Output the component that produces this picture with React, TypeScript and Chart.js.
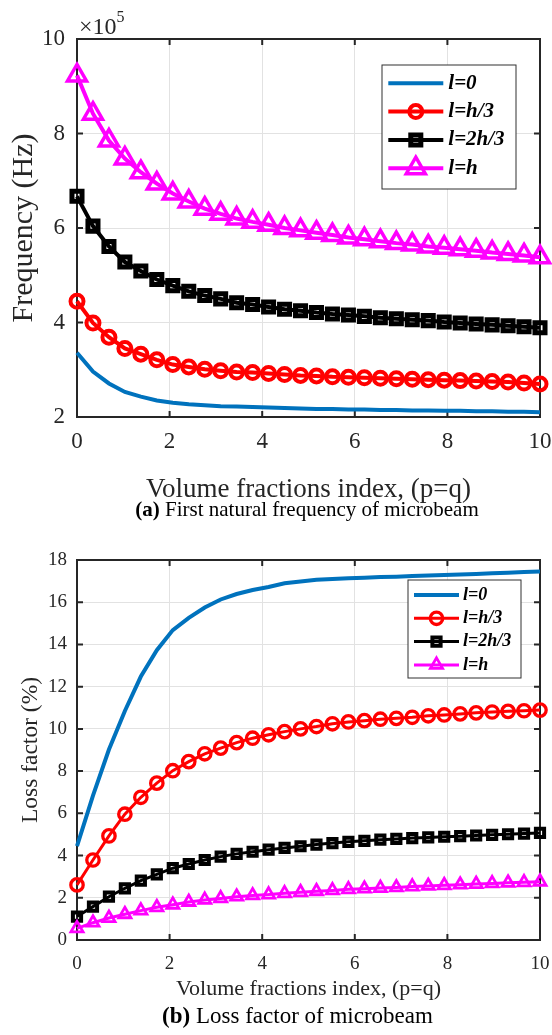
import React, { useEffect, useRef } from "react";
import { Chart, registerables } from "chart.js";
import { drawPoint } from "chart.js/helpers";

Chart.register(...registerables);

const FONT = '"Liberation Serif", "Times New Roman", Times, serif';
const AXIS_COLOR = "#262626";
const GRID_COLOR = "#e2e2e2";
const CANVAS_WIDTH = 600;

// Volume fraction index p = q (30 samples)
const pValues = [
  0, 0.345, 0.69, 1.034, 1.379, 1.724, 2.069, 2.414, 2.759, 3.103,
  3.448, 3.793, 4.138, 4.483, 4.828, 5.172, 5.517, 5.862, 6.207, 6.552,
  6.897, 7.241, 7.586, 7.931, 8.276, 8.621, 8.966, 9.31, 9.655, 10,
];

const seriesLabels = ["l=0", "l=h/3", "l=2h/3", "l=h"];
const seriesColors = ["#0072BD", "#FF0000", "#000000", "#FF00FF"];
const seriesMarkers = [false, "circle", "rect", "triangle"];

const xTicks = [0, 2, 4, 6, 8, 10];
const freqYTicks = [2, 4, 6, 8, 10];
const lossYTicks = [0, 2, 4, 6, 8, 10, 12, 14, 16, 18];

// (a) First natural frequency (x 10^5 Hz)
const freqL0 = [3.36, 2.96, 2.71, 2.53, 2.43, 2.35, 2.3, 2.27, 2.25, 2.23, 2.22, 2.21, 2.2, 2.19, 2.18, 2.17, 2.17, 2.16, 2.16, 2.15, 2.15, 2.14, 2.14, 2.13, 2.13, 2.12, 2.12, 2.11, 2.11, 2.1];
const freqLh3 = [4.45, 3.99, 3.69, 3.45, 3.33, 3.21, 3.11, 3.06, 3.01, 2.98, 2.95, 2.94, 2.92, 2.9, 2.88, 2.87, 2.85, 2.84, 2.83, 2.82, 2.81, 2.8, 2.79, 2.78, 2.77, 2.76, 2.75, 2.74, 2.72, 2.7];
const freqL2h3 = [6.67, 6.04, 5.61, 5.28, 5.09, 4.91, 4.78, 4.66, 4.57, 4.5, 4.42, 4.38, 4.33, 4.28, 4.25, 4.21, 4.18, 4.16, 4.13, 4.1, 4.08, 4.06, 4.04, 4.01, 3.99, 3.97, 3.95, 3.93, 3.91, 3.89];
const freqLh = [9.23, 8.42, 7.85, 7.47, 7.18, 6.94, 6.73, 6.56, 6.41, 6.3, 6.2, 6.13, 6.07, 6.0, 5.95, 5.9, 5.85, 5.8, 5.76, 5.72, 5.68, 5.65, 5.61, 5.58, 5.55, 5.52, 5.48, 5.45, 5.42, 5.38];

// (b) Loss factor (%)
const lossL0 = [4.45, 6.84, 9.02, 10.85, 12.48, 13.73, 14.68, 15.26, 15.75, 16.13, 16.39, 16.58, 16.72, 16.9, 16.98, 17.06, 17.1, 17.14, 17.16, 17.19, 17.21, 17.24, 17.27, 17.29, 17.31, 17.34, 17.37, 17.4, 17.43, 17.45];
const lossLh3 = [2.61, 3.79, 4.93, 5.96, 6.76, 7.43, 8.02, 8.45, 8.82, 9.09, 9.35, 9.56, 9.72, 9.87, 10.0, 10.11, 10.24, 10.33, 10.39, 10.46, 10.5, 10.55, 10.62, 10.66, 10.71, 10.76, 10.8, 10.83, 10.86, 10.89];
const lossL2h3 = [1.11, 1.58, 2.05, 2.45, 2.81, 3.11, 3.4, 3.6, 3.79, 3.95, 4.08, 4.18, 4.28, 4.36, 4.44, 4.52, 4.59, 4.65, 4.7, 4.75, 4.79, 4.83, 4.86, 4.89, 4.92, 4.95, 4.98, 5.01, 5.04, 5.07];
const lossLh = [0.55, 0.82, 1.04, 1.22, 1.39, 1.55, 1.67, 1.8, 1.9, 1.97, 2.05, 2.11, 2.15, 2.21, 2.26, 2.31, 2.35, 2.4, 2.43, 2.46, 2.49, 2.53, 2.56, 2.59, 2.62, 2.65, 2.68, 2.71, 2.73, 2.76];

// ---------- plugins ----------
const boxPlugin = {
  id: "matlabBox",
  beforeDatasetsDraw(chart: any, _args: any, opts: any) {
    const { ctx, chartArea: a, scales } = chart;
    const L = opts.tickLength ?? 6;
    ctx.save();
    ctx.strokeStyle = AXIS_COLOR;
    ctx.lineWidth = opts.lineWidth ?? 2;
    ctx.strokeRect(a.left, a.top, a.right - a.left, a.bottom - a.top);
    ctx.beginPath();
    for (const t of scales.x.ticks) {
      const px = scales.x.getPixelForValue(t.value);
      ctx.moveTo(px, a.bottom);
      ctx.lineTo(px, a.bottom - L);
      ctx.moveTo(px, a.top);
      ctx.lineTo(px, a.top + L);
    }
    for (const t of scales.y.ticks) {
      const py = scales.y.getPixelForValue(t.value);
      ctx.moveTo(a.left, py);
      ctx.lineTo(a.left + L, py);
      ctx.moveTo(a.right, py);
      ctx.lineTo(a.right - L, py);
    }
    ctx.stroke();
    ctx.restore();
  },
};

const legendPlugin = {
  id: "insideLegend",
  afterDraw(chart: any, _args: any, o: any) {
    const { ctx, chartArea: a } = chart;
    const right = a.right - o.rightOffset;
    const top = a.top + o.topOffset;
    const left = right - o.width;
    ctx.save();
    ctx.fillStyle = "#ffffff";
    ctx.fillRect(left, top, o.width, o.height);
    ctx.strokeStyle = "#303030";
    ctx.lineWidth = 1;
    ctx.strokeRect(left, top, o.width, o.height);
    chart.data.datasets.forEach((ds: any, i: number) => {
      const y = top + o.firstRow + i * o.rowGap;
      const x0 = left + o.linePad;
      const x1 = x0 + o.lineLength;
      ctx.strokeStyle = ds.borderColor;
      ctx.lineWidth = ds.borderWidth;
      ctx.beginPath();
      ctx.moveTo(x0, y);
      ctx.lineTo(x1, y);
      ctx.stroke();
      if (ds.pointStyle) {
        ctx.fillStyle = "rgba(0,0,0,0)";
        ctx.strokeStyle = ds.borderColor;
        ctx.lineWidth = ds.pointBorderWidth;
        drawPoint(ctx, { pointStyle: ds.pointStyle, rotation: 0, radius: ds.pointRadius, borderWidth: ds.pointBorderWidth } as any, (x0 + x1) / 2, y);
      }
      ctx.fillStyle = "#000000";
      ctx.font = `italic bold ${o.fontSize}px ${FONT}`;
      ctx.textBaseline = "middle";
      ctx.textAlign = "left";
      ctx.fillText(ds.label, x1 + o.textGap, y);
    });
    ctx.restore();
  },
};

const extraTextPlugin = {
  id: "extraText",
  afterDraw(chart: any, _args: any, o: any) {
    const { ctx } = chart;
    ctx.save();
    ctx.textBaseline = "alphabetic";
    ctx.textAlign = "left";
    for (const item of o.items || []) {
      const fonts = item.parts.map((p: any) => `${p.bold ? "bold " : ""}${p.size ?? item.size}px ${FONT}`);
      let total = 0;
      const widths = item.parts.map((p: any, i: number) => {
        ctx.font = fonts[i];
        const w = ctx.measureText(p.text).width;
        total += w;
        return w;
      });
      let x = item.align === "left" ? item.x : item.x - total / 2;
      item.parts.forEach((p: any, i: number) => {
        ctx.font = fonts[i];
        ctx.fillStyle = item.color ?? "#000";
        ctx.fillText(p.text, x, item.y + (p.dy ?? 0));
        x += widths[i];
      });
    }
    ctx.restore();
  },
};

type PanelSpec = {
  height: number;
  series: number[][];
  lineWidths: number[];
  pointRadii: number[];
  pointBorderWidths: number[];
  yMin: number;
  yMax: number;
  yTicks: number[];
  tickSize: number;
  xTickPad: number;
  yTickPad: number;
  xTitle: string;
  xTitleSize: number;
  xTitlePadBottom: number;
  xScaleHeight: number;
  yTitle: string;
  yTitleSize: number;
  yTitlePadTop: number;
  padding: { top: number; right: number; bottom: number; left: number };
  legend: any;
  extraText: any;
};

function buildConfig(s: PanelSpec): any {
  const datasets = s.series.map((arr, i) => ({
    label: seriesLabels[i],
    data: pValues.map((x, j) => ({ x, y: arr[j] })),
    borderColor: seriesColors[i],
    backgroundColor: "rgba(0,0,0,0)",
    borderWidth: s.lineWidths[i],
    pointStyle: seriesMarkers[i],
    pointRadius: seriesMarkers[i] ? s.pointRadii[i] : 0,
    pointBorderWidth: s.pointBorderWidths[i],
    pointBorderColor: seriesColors[i],
    pointBackgroundColor: "rgba(0,0,0,0)",
    tension: 0,
    clip: false,
    order: 3 - i,
  }));
  return {
    type: "line",
    data: { datasets },
    options: {
      animation: false,
      responsive: false,
      devicePixelRatio: 1,
      events: [],
      layout: { padding: s.padding },
      plugins: {
        legend: { display: false },
        tooltip: { enabled: false },
        matlabBox: { lineWidth: 2, tickLength: 6 },
        insideLegend: s.legend,
        extraText: s.extraText,
      },
      scales: {
        x: {
          type: "linear",
          min: 0,
          max: 10,
          afterBuildTicks: (sc: any) => {
            sc.ticks = xTicks.map((v) => ({ value: v }));
          },
          afterFit: (sc: any) => {
            sc.height = s.xScaleHeight;
          },
          ticks: {
            font: { family: FONT, size: s.tickSize },
            color: AXIS_COLOR,
            padding: s.xTickPad,
            maxRotation: 0,
            autoSkip: false,
          },
          grid: { color: GRID_COLOR, lineWidth: 1, drawTicks: false },
          border: { display: false },
          title: {
            display: true,
            text: s.xTitle,
            color: AXIS_COLOR,
            font: { family: FONT, size: s.xTitleSize },
            padding: { top: 0, bottom: s.xTitlePadBottom },
          },
        },
        y: {
          type: "linear",
          min: s.yMin,
          max: s.yMax,
          afterBuildTicks: (sc: any) => {
            sc.ticks = s.yTicks.map((v) => ({ value: v }));
          },
          afterFit: (sc: any) => {
            sc.width = 77;
          },
          ticks: {
            font: { family: FONT, size: s.tickSize },
            color: AXIS_COLOR,
            padding: s.yTickPad,
            autoSkip: false,
          },
          grid: { color: GRID_COLOR, lineWidth: 1, drawTicks: false },
          border: { display: false },
          title: {
            display: true,
            text: s.yTitle,
            color: AXIS_COLOR,
            font: { family: FONT, size: s.yTitleSize },
            padding: { top: s.yTitlePadTop, bottom: 0 },
          },
        },
      },
    },
    plugins: [boxPlugin, legendPlugin, extraTextPlugin],
  };
}

const panelA: PanelSpec = {
  height: 530,
  series: [freqL0, freqLh3, freqL2h3, freqLh],
  lineWidths: [4, 4, 4, 4],
  pointRadii: [0, 6.5, 7.1, 11],
  pointBorderWidths: [0, 4, 5, 3.5],
  yMin: 2,
  yMax: 10,
  yTicks: freqYTicks,
  tickSize: 23,
  xTickPad: 11,
  yTickPad: 12,
  xTitle: "Volume fractions index, (p=q)",
  xTitleSize: 27,
  xTitlePadBottom: 10.6,
  xScaleHeight: 100,
  yTitle: "Frequency (Hz)",
  yTitleSize: 30,
  yTitlePadTop: 6,
  padding: { top: 39, right: 60, bottom: 13, left: 0 },
  legend: {
    rightOffset: 24,
    topOffset: 26,
    width: 134,
    height: 124,
    firstRow: 18.3,
    rowGap: 28.3,
    linePad: 6.3,
    lineLength: 55,
    textGap: 5,
    fontSize: 21,
  },
  extraText: {
    items: [
      {
        align: "left",
        x: 79,
        y: 34,
        size: 24,
        color: AXIS_COLOR,
        parts: [
          { text: "\u00d710" },
          { text: "5", size: 16, dy: -12 },
        ],
      },
      {
        x: 307,
        y: 516,
        size: 21,
        parts: [
          { text: "(a)", bold: true },
          { text: " First natural frequency of microbeam" },
        ],
      },
    ],
  },
};

const panelB: PanelSpec = {
  height: 505,
  series: [lossL0, lossLh3, lossL2h3, lossLh],
  lineWidths: [4, 3, 3, 3],
  pointRadii: [0, 6.2, 5.8, 7],
  pointBorderWidths: [0, 3.3, 4, 2.8],
  yMin: 0,
  yMax: 18,
  yTicks: lossYTicks,
  tickSize: 19,
  xTickPad: 13,
  yTickPad: 10,
  xTitle: "Volume fractions index, (p=q)",
  xTitleSize: 22,
  xTitlePadBottom: 7.8,
  xScaleHeight: 70,
  yTitle: "Loss factor (%)",
  yTitleSize: 23.5,
  yTitlePadTop: 16.5,
  padding: { top: 30, right: 60, bottom: 25, left: 0 },
  legend: {
    rightOffset: 19,
    topOffset: 20,
    width: 113,
    height: 98,
    firstRow: 15,
    rowGap: 23.3,
    linePad: 6,
    lineLength: 45,
    textGap: 4,
    fontSize: 18,
  },
  extraText: {
    items: [
      {
        x: 297.5,
        y: 493,
        size: 23,
        parts: [
          { text: "(b)", bold: true },
          { text: " Loss factor of microbeam" },
        ],
      },
    ],
  },
};

function Panel({ spec, top }: { spec: PanelSpec; top: number }) {
  const ref = useRef<HTMLCanvasElement | null>(null);
  useEffect(() => {
    if (!ref.current) return;
    const chart = new Chart(ref.current, buildConfig(spec));
    return () => chart.destroy();
  }, [spec]);
  return (
    <canvas
      ref={ref}
      width={CANVAS_WIDTH}
      height={spec.height}
      style={{ position: "absolute", left: 0, top, width: CANVAS_WIDTH, height: spec.height, display: "block" }}
    />
  );
}

export default function App() {
  return (
    <div
      style={{
        position: "absolute",
        left: 0,
        top: 0,
        width: 552,
        height: 1035,
        overflow: "hidden",
        background: "#ffffff",
      }}
    >
      <Panel spec={panelA} top={0} />
      <Panel spec={panelB} top={530} />
    </div>
  );
}
